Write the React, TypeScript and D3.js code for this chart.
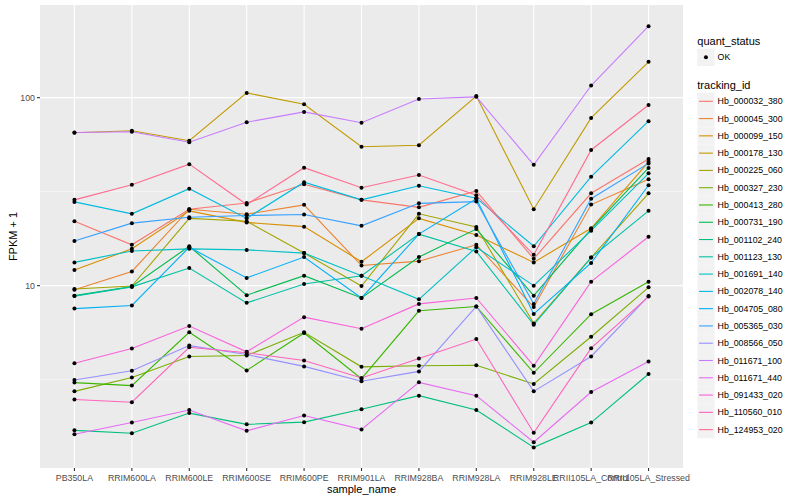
import React from "react";
import * as d3 from "d3";

// sample order along the x axis
const samples = [
  "PB350LA",
  "RRIM600LA",
  "RRIM600LE",
  "RRIM600SE",
  "RRIM600PE",
  "RRIM901LA",
  "RRIM928BA",
  "RRIM928LA",
  "RRIM928LE",
  "RRII105LA_Control",
  "RRII105LA_Stressed",
];

// FPKM + 1, one value per sample
const hb_000032_380 = [22.0, 16.5, 25.5, 27.5, 34.6, 28.6, 26.1, 31.9, 13.9, 31.0, 47.2];
const hb_000045_300 = [9.5, 11.9, 25.5, 24.0, 26.9, 12.8, 13.5, 16.5, 7.7, 27.0, 36.8];
const hb_000099_150 = [12.1, 15.7, 25.0, 21.7, 20.6, 13.4, 22.8, 18.6, 13.3, 20.2, 45.6];
const hb_000178_130 = [65.0, 66.7, 59.0, 106, 92.2, 54.8, 55.8, 102, 25.5, 78, 155];
const hb_000225_060 = [9.6, 9.95, 22.8, 22.0, 14.9, 9.95, 24.1, 20.5, 6.3, 14.1, 31.0];
const hb_000327_230 = [2.74, 3.25, 4.2, 4.25, 5.65, 3.7, 3.75, 3.77, 3.0, 5.35, 9.8];
const hb_000413_280 = [3.05, 2.94, 5.65, 3.54, 5.6, 3.2, 7.35, 7.75, 3.44, 7.05, 10.5];
const hb_000731_190 = [8.85, 9.9, 16.2, 8.9, 11.3, 8.6, 14.2, 20.0, 8.85, 20.0, 42.3];
const hb_001102_240 = [1.7, 1.64, 2.1, 1.83, 1.88, 2.2, 2.6, 2.18, 1.38, 1.87, 3.39];
const hb_001123_130 = [8.8, 9.85, 12.4, 8.1, 10.2, 11.3, 18.8, 15.2, 6.2, 14.1, 25.0];
const hb_001691_140 = [13.3, 15.3, 15.7, 15.5, 14.9, 11.3, 8.46, 16.0, 10.0, 19.6, 39.6];
const hb_002078_140 = [27.9, 24.1, 32.8, 22.8, 35.5, 28.6, 34.0, 29.2, 16.2, 38.0, 75];
const hb_004705_080 = [7.55, 7.85, 16.0, 11.0, 14.2, 8.6, 18.8, 29.0, 7.07, 13.2, 34.2];
const hb_005365_030 = [17.3, 21.5, 23.1, 23.6, 23.9, 20.8, 27.4, 28.0, 8.0, 29.0, 44.7];
const hb_008566_050 = [3.15, 3.53, 4.8, 4.3, 3.72, 3.1, 3.5, 7.75, 2.74, 4.2, 8.8];
const hb_011671_100 = [65.2, 65.9, 57.9, 74, 84, 73.6, 98.4, 101, 43.9, 116, 240];
const hb_011671_440 = [1.62, 1.87, 2.18, 1.69, 2.04, 1.72, 3.06, 2.6, 1.47, 2.72, 3.95];
const hb_091433_020 = [3.87, 4.63, 6.1, 4.45, 6.8, 5.9, 8.0, 8.6, 3.75, 10.5, 18.2];
const hb_110560_010 = [2.48, 2.4, 4.7, 4.4, 4.0, 3.23, 4.1, 5.2, 1.65, 4.65, 8.75];
const hb_124953_020 = [28.6, 34.4, 44.3, 27.0, 42.4, 33.2, 38.8, 30.3, 14.6, 52.7, 91.4];

const trackingIds = [
  "Hb_000032_380",
  "Hb_000045_300",
  "Hb_000099_150",
  "Hb_000178_130",
  "Hb_000225_060",
  "Hb_000327_230",
  "Hb_000413_280",
  "Hb_000731_190",
  "Hb_001102_240",
  "Hb_001123_130",
  "Hb_001691_140",
  "Hb_002078_140",
  "Hb_004705_080",
  "Hb_005365_030",
  "Hb_008566_050",
  "Hb_011671_100",
  "Hb_011671_440",
  "Hb_091433_020",
  "Hb_110560_010",
  "Hb_124953_020",
];

const seriesValues = [
  hb_000032_380, hb_000045_300, hb_000099_150, hb_000178_130, hb_000225_060,
  hb_000327_230, hb_000413_280, hb_000731_190, hb_001102_240, hb_001123_130,
  hb_001691_140, hb_002078_140, hb_004705_080, hb_005365_030, hb_008566_050,
  hb_011671_100, hb_011671_440, hb_091433_020, hb_110560_010, hb_124953_020,
];

const yTicks = [10, 100];
const yMinor = [Math.sqrt(10), Math.sqrt(1000)];

// ggplot2 hue palette, 20 levels
const hues = [
  "#F8766D", "#EA8331", "#D89000", "#C09B00", "#A3A500",
  "#7CAE00", "#39B600", "#00BB4E", "#00BF7D", "#00C1A3",
  "#00BFC4", "#00BAE0", "#00B0F6", "#35A2FF", "#9590FF",
  "#C77CFF", "#E76BF3", "#FA62DB", "#FF62BC", "#FF6C91",
];

const W = 800;
const H = 500;
const panel = { left: 40, right: 683, top: 5, bottom: 468 };
const font = "'Liberation Sans', Arial, Helvetica, sans-serif";

export default function App() {
  const x = d3
    .scalePoint<string>()
    .domain(samples)
    .range([panel.left, panel.right])
    .padding(0.6);

  const y = d3
    .scaleLog()
    .domain([1.072, 311])
    .range([panel.bottom, panel.top]);

  const line = d3
    .line<number>()
    .x((_, i) => x(samples[i]) as number)
    .y((d) => y(d));

  const keyH = 17.28;
  const legX = 697.3;

  return (
    <svg
      width={W}
      height={H}
      style={{ position: "absolute", left: 0, top: 0, background: "#fff" }}
      fontFamily={font}
    >
      <rect
        x={panel.left}
        y={panel.top}
        width={panel.right - panel.left}
        height={panel.bottom - panel.top}
        fill="#EBEBEB"
      />
      {yMinor.map((t) => (
        <line
          key={"mn" + t}
          x1={panel.left}
          x2={panel.right}
          y1={y(t)}
          y2={y(t)}
          stroke="#fff"
          strokeWidth={0.55}
        />
      ))}
      {yTicks.map((t) => (
        <line
          key={"mj" + t}
          x1={panel.left}
          x2={panel.right}
          y1={y(t)}
          y2={y(t)}
          stroke="#fff"
          strokeWidth={1.1}
        />
      ))}
      {samples.map((s) => (
        <line
          key={"vx" + s}
          x1={x(s)}
          x2={x(s)}
          y1={panel.top}
          y2={panel.bottom}
          stroke="#fff"
          strokeWidth={1.1}
        />
      ))}

      {seriesValues.map((vals, i) => (
        <path
          key={"l" + i}
          d={line(vals) || ""}
          fill="none"
          stroke={hues[i]}
          strokeWidth={1.1}
        />
      ))}
      {seriesValues.map((vals, i) =>
        vals.map((v, j) => (
          <circle
            key={"p" + i + "_" + j}
            cx={x(samples[j])}
            cy={y(v)}
            r={2}
            fill="#000"
          />
        ))
      )}

      {/* y axis */}
      {yTicks.map((t) => (
        <g key={"yt" + t}>
          <line
            x1={panel.left - 3}
            x2={panel.left}
            y1={y(t)}
            y2={y(t)}
            stroke="#333"
            strokeWidth={1.1}
          />
          <text
            x={panel.left - 5}
            y={y(t)}
            textAnchor="end"
            dominantBaseline="central"
            fontSize={8.8}
            fill="#4D4D4D"
          >
            {t}
          </text>
        </g>
      ))}
      <text
        transform={`translate(13,${(panel.top + panel.bottom) / 2}) rotate(-90)`}
        textAnchor="middle"
        dominantBaseline="central"
        fontSize={11}
        fill="#000"
      >
        FPKM + 1
      </text>

      {/* x axis */}
      {samples.map((s) => (
        <g key={"xt" + s}>
          <line
            x1={x(s)}
            x2={x(s)}
            y1={panel.bottom}
            y2={panel.bottom + 3}
            stroke="#333"
            strokeWidth={1.1}
          />
          <text
            x={x(s)}
            y={panel.bottom + 12.5}
            textAnchor="middle"
            fontSize={8.8}
            fill="#4D4D4D"
          >
            {s}
          </text>
        </g>
      ))}
      <text
        x={(panel.left + panel.right) / 2}
        y={493}
        textAnchor="middle"
        fontSize={11}
        fill="#000"
      >
        sample_name
      </text>

      {/* legends */}
      <text x={legX} y={40.7} dominantBaseline="central" fontSize={11}>
        quant_status
      </text>
      <rect x={legX} y={48.7} width={keyH} height={keyH} fill="#F2F2F2" />
      <circle cx={legX + keyH / 2} cy={48.7 + keyH / 2} r={2} fill="#000" />
      <text
        x={legX + keyH + 3}
        y={48.7 + keyH / 2}
        dominantBaseline="central"
        fontSize={8.8}
      >
        OK
      </text>

      <text x={legX} y={84.7} dominantBaseline="central" fontSize={11}>
        tracking_id
      </text>
      {trackingIds.map((id, i) => {
        const cy = 101.3 + i * keyH;
        return (
          <g key={"lg" + id}>
            <rect
              x={legX}
              y={cy - keyH / 2}
              width={keyH}
              height={keyH}
              fill="#F2F2F2"
            />
            <line
              x1={legX + 1.7}
              x2={legX + keyH - 1.7}
              y1={cy}
              y2={cy}
              stroke={hues[i]}
              strokeWidth={1.1}
            />
            <text
              x={legX + keyH + 3}
              y={cy}
              dominantBaseline="central"
              fontSize={8.8}
            >
              {id}
            </text>
          </g>
        );
      })}
    </svg>
  );
}
